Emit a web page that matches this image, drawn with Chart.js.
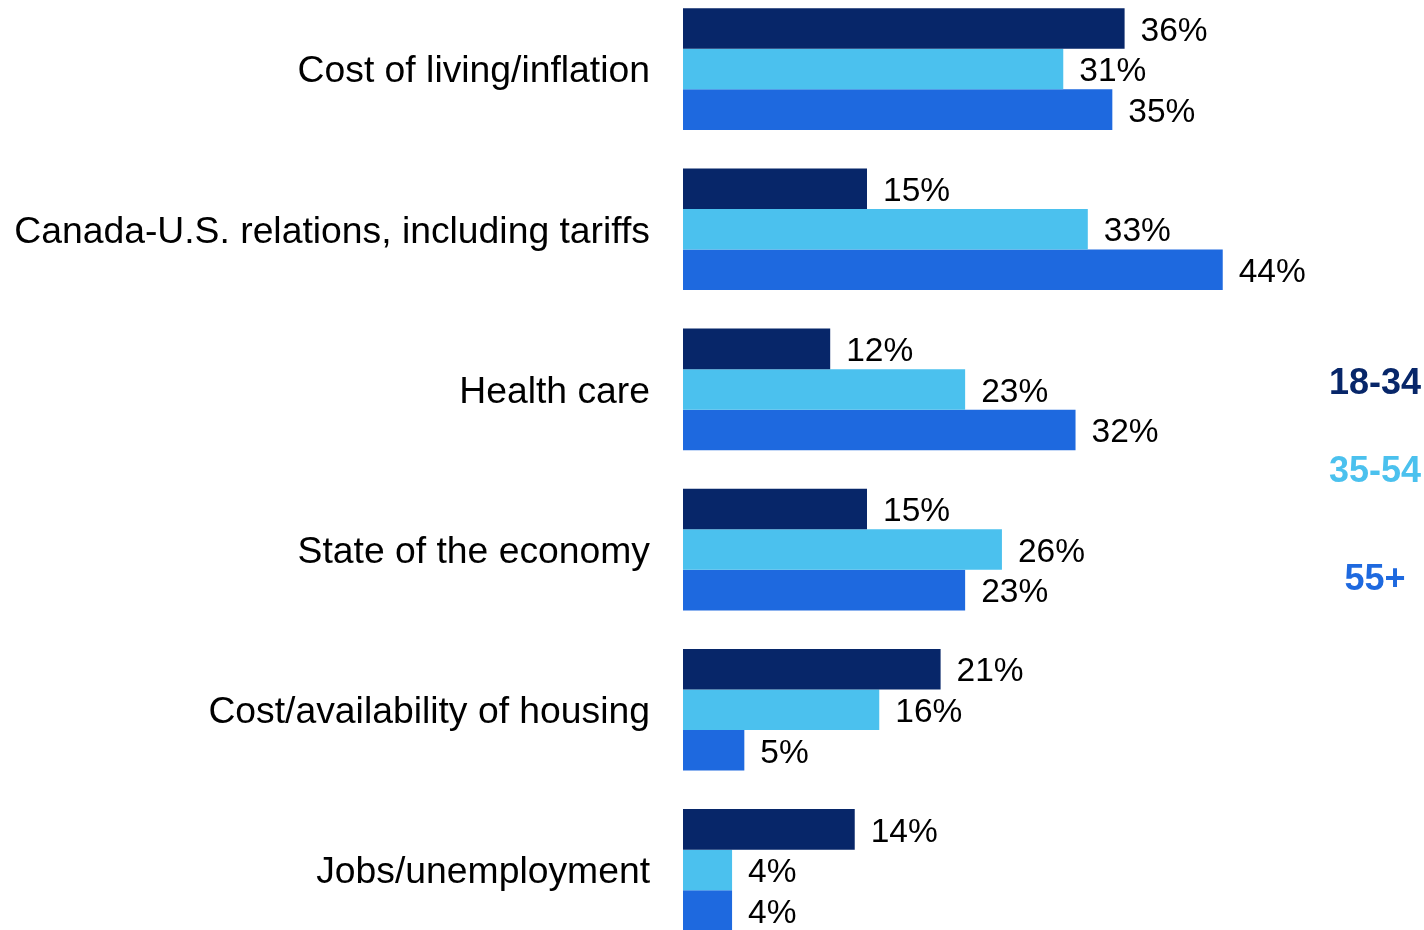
<!DOCTYPE html>
<html>
<head>
<meta charset="utf-8">
<script src="https://cdn.jsdelivr.net/npm/chart.js@4"></script>
<style>
  html, body { margin: 0; padding: 0; background: #fff; overflow: hidden; }
  #wrap { position: absolute; left: 0; top: -11px; width: 1424px; height: 961px; }
</style>
</head>
<body>
<div id="wrap"><canvas id="plot"></canvas></div>
<script>
// categorias y valores (%)
const categorias = [
  'Cost of living/inflation',
  'Canada-U.S. relations, including tariffs',
  'Health care',
  'State of the economy',
  'Cost/availability of housing',
  'Jobs/unemployment'
];
const grupos = ['18-34', '35-54', '55+'];
const colores = ['#072669', '#4BC1EE', '#1E69DF'];
const edad18a34 = [36, 15, 12, 15, 21, 14];
const edad35a54 = [31, 33, 23, 26, 16, 4];
const edad55mas = [35, 44, 32, 23, 5, 4];

// etiquetas de valor al final de cada barra
const etiquetasValor = {
  id: 'etiquetasValor',
  afterDatasetsDraw(chart) {
    const ctx = chart.ctx;
    ctx.save();
    ctx.font = '33.5px "Liberation Sans", Arial, sans-serif';
    ctx.fillStyle = '#000';
    ctx.textAlign = 'left';
    ctx.textBaseline = 'middle';
    chart.data.datasets.forEach((ds, i) => {
      chart.getDatasetMeta(i).data.forEach((bar, j) => {
        ctx.fillText(ds.data[j] + '%', bar.x + 16, bar.y + 3);
      });
    });
    ctx.restore();
  }
};

// leyenda de texto a la derecha
const leyendaTexto = {
  id: 'leyendaTexto',
  afterDraw(chart) {
    const ctx = chart.ctx;
    const posY = [395, 483, 591];
    ctx.save();
    ctx.font = 'bold 36px "Liberation Sans", Arial, sans-serif';
    ctx.textAlign = 'center';
    ctx.textBaseline = 'middle';
    grupos.forEach((g, i) => {
      ctx.fillStyle = colores[i];
      ctx.fillText(g, 1375, posY[i]);
    });
    ctx.restore();
  }
};

let config = {
  type: 'bar',
  data: {
    labels: categorias,
    datasets: [
      { label: grupos[0], data: edad18a34, backgroundColor: colores[0] },
      { label: grupos[1], data: edad35a54, backgroundColor: colores[1] },
      { label: grupos[2], data: edad55mas, backgroundColor: colores[2] }
    ]
  },
  options: {
    indexAxis: 'y',
    responsive: true,
    maintainAspectRatio: false,
    animation: false,
    layout: { padding: { left: 0, right: 5, top: 0, bottom: 0 } },
    datasets: { bar: { categoryPercentage: 0.76, barPercentage: 1.0 } },
    plugins: { legend: { display: false }, tooltip: { enabled: false } },
    scales: {
      x: { display: false, min: 0, max: 60 },
      y: {
        grid: { display: false, drawTicks: false },
        border: { display: false },
        ticks: {
          color: '#000',
          padding: 33,
          labelOffset: 3,
          font: { family: '"Liberation Sans", Arial, sans-serif', size: 37.3 }
        },
        afterFit: (scale) => {
          scale.width = 683;
          scale.paddingTop = 0;
          scale.paddingBottom = 0;
        }
      }
    }
  },
  plugins: [etiquetasValor, leyendaTexto]
};

let chart = new Chart(document.getElementById('plot'), config);
</script>
</body>
</html>
